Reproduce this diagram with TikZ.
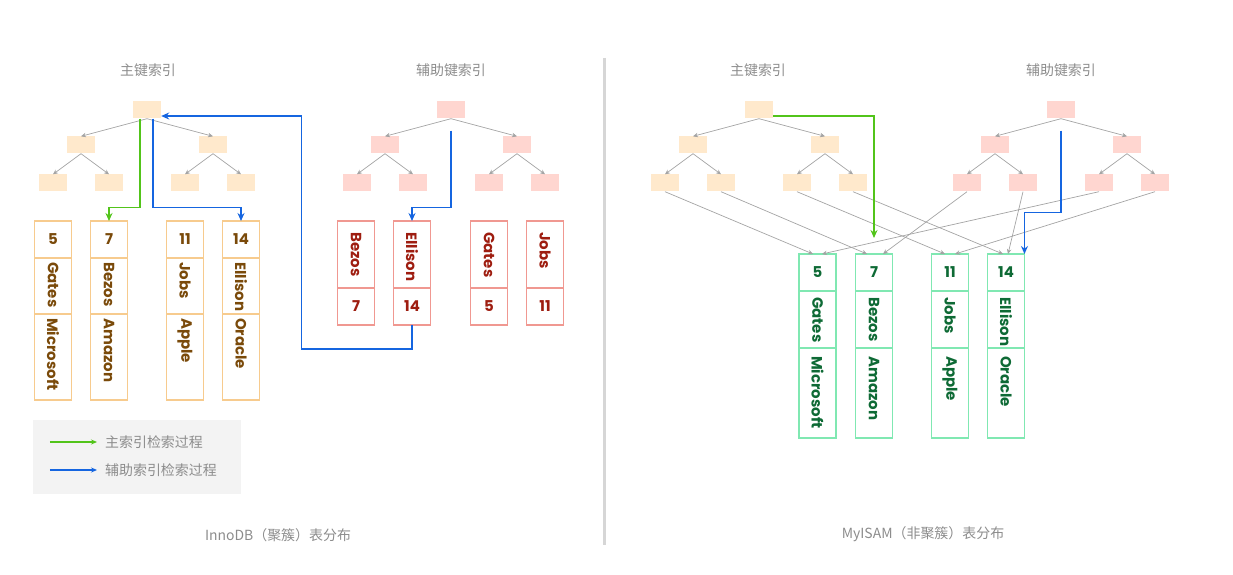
\documentclass[tikz,border=0pt]{standalone}
\usepackage{fontspec}
\setmainfont{Liberation Sans}
\newfontfamily\cjk{Noto Sans CJK SC}
\newfontfamily\recfont{Poppins}
\usetikzlibrary{arrows.meta,positioning}
\definecolor{pkfill}{HTML}{FFE9CC}
\definecolor{skfill}{HTML}{FFD6D0}
\definecolor{pkline}{HTML}{F7CB8E}
\definecolor{pktext}{HTML}{7A4A0A}
\definecolor{skline}{HTML}{F09891}
\definecolor{sktext}{HTML}{9E1D10}
\definecolor{myline}{HTML}{80E8B2}
\definecolor{mytext}{HTML}{0E6A35}
\definecolor{ptrgray}{HTML}{A3A3A3}
\definecolor{lblgray}{HTML}{8C8C8C}
\definecolor{hitgreen}{HTML}{52C41A}
\definecolor{hitblue}{HTML}{1565E0}
\definecolor{legendbg}{HTML}{F3F3F3}
\definecolor{divgray}{HTML}{D6D6D6}
\tikzset{
  lbl/.style={font=\cjk\fontsize{14}{16}\selectfont, text=lblgray},
  pknode/.style={fill=pkfill, minimum width=28bp, minimum height=17bp, inner sep=0pt},
  sknode/.style={pknode, fill=skfill},
  ptr/.style={-{Stealth[length=5bp,width=4.5bp]}, draw=ptrgray, line width=0.7bp},
  hit/.style={-{Stealth[length=8bp,width=7bp]}, line width=1.4bp},
  cell/.style={draw, line width=1.3bp, minimum width=37bp, inner sep=0pt, outer sep=0pt,
    font=\recfont\bfseries\fontsize{15}{17}\selectfont},
  vtxt/.style={rotate=-90, anchor=west, inner sep=0pt, font=\recfont\bfseries\fontsize{15}{17}\selectfont},
}

\begin{document}
\begin{tikzpicture}[x=1bp, y=-1bp]
  \useasboundingbox (0,0) rectangle (1233,575);
  % titles
  \node[lbl] (tlp) at (148,70) {主键索引};
  \node[lbl] (tls) at (451,70) {辅助键索引};
  \node[lbl] (trp) at (758,70) {主键索引};
  \node[lbl] (trs) at (1061,70) {辅助键索引};
  % four b+ trees
  \foreach \tr/\cx/\sty in {lp/147/pknode, ls/451/sknode, rp/759/pknode, rs/1061/sknode} {
    \node[\sty] (\tr0) at (\cx,110) {};
    \node[\sty] (\tr1) at (\cx-66,145) {};
    \node[\sty] (\tr2) at (\cx+66,145) {};
    \node[\sty] (\tr11) at (\cx-94,183) {};
    \node[\sty] (\tr12) at (\cx-38,183) {};
    \node[\sty] (\tr21) at (\cx+38,183) {};
    \node[\sty] (\tr22) at (\cx+94,183) {};
    \draw[ptr] (\tr0.south) -- (\tr1.north);
    \draw[ptr] (\tr0.south) -- (\tr2.north);
    \draw[ptr] (\tr1.south) -- (\tr11.north);
    \draw[ptr] (\tr1.south) -- (\tr12.north);
    \draw[ptr] (\tr2.south) -- (\tr21.north);
    \draw[ptr] (\tr2.south) -- (\tr22.north);
  }
  % InnoDB rows in the primary index
  \foreach \id/\cx/\num/\who/\firm in {a/53/5/Gates/Microsoft, b/109/7/Bezos/Amazon,
      c/185/11/Jobs/Apple, d/241/14/Ellison/Oracle} {
    \node[cell, draw=pkline, text=pktext, minimum height=37bp] (lk\id) at (\cx,239.5) {\num};
    \node[cell, draw=pkline, minimum height=56bp, below=0pt of lk\id] (ln\id) {};
    \node[cell, draw=pkline, minimum height=86bp, below=0pt of ln\id] (lc\id) {};
    \node[vtxt, text=pktext] at ([yshift=-4bp]ln\id.north) {\who};
    \node[vtxt, text=pktext] at ([yshift=-4bp]lc\id.north) {\firm};
  }
  % InnoDB secondary leaves
  \foreach \id/\cx/\who/\num in {a/356/Bezos/7, b/412/Ellison/14, c/489/Gates/5, d/545/Jobs/11} {
    \node[cell, draw=skline, minimum height=67bp] (sn\id) at (\cx,254.5) {};
    \node[cell, draw=skline, text=sktext, minimum height=37bp, below=0pt of sn\id] (sk\id) {\num};
    \node[vtxt, text=sktext] at ([yshift=-11bp]sn\id.north) {\who};
  }
  % MyISAM data file
  \foreach \id/\cx/\num/\who/\firm in {a/817.5/5/Gates/Microsoft, b/874/7/Bezos/Amazon,
      c/950/11/Jobs/Apple, d/1006/14/Ellison/Oracle} {
    \node[cell, draw=myline, text=mytext, minimum height=37bp] (rk\id) at (\cx,272.5) {\num};
    \node[cell, draw=myline, minimum height=57bp, below=0pt of rk\id] (rn\id) {};
    \node[cell, draw=myline, minimum height=90bp, below=0pt of rn\id] (rc\id) {};
    \node[vtxt, text=mytext] at ([yshift=-6bp]rn\id.north) {\who};
    \node[vtxt, text=mytext] at ([yshift=-8bp]rc\id.north) {\firm};
  }
  % leaf pointers into the data file
  \draw[ptr] (rp11.south) -- ([xshift=-4.5bp]rka.north);
  \draw[ptr] (rp12.south) -- ([xshift=-7bp]rkb.north);
  \draw[ptr] (rp21.south) -- ([xshift=-5bp]rkc.north);
  \draw[ptr] (rp22.south) -- ([xshift=-3bp]rkd.north);
  \draw[ptr] (rs11.south) -- ([xshift=9bp]rkb.north);
  \draw[ptr] (rs12.south) -- ([xshift=2bp]rkd.north);
  \draw[ptr] (rs21.south) -- ([xshift=4.5bp]rka.north);
  \draw[ptr] (rs22.south) -- ([xshift=5bp]rkc.north);
  % lookups
  \draw[hit, hitgreen] ([xshift=-7bp]lp0.south) -- ++(0,89) -| (lkb.north);
  \draw[hit, hitblue] ([xshift=6bp]lp0.south) -- ++(0,89) -| (lkd.north);
  \draw[hit, hitblue] ([yshift=-12bp]ls0.south) -- ++(0,77) -| (snb.north);
  \draw[hit, hitblue] (skb.south) -- ++(0,24) -| ([xshift=140bp,yshift=-6bp]lp0.east)
    -- ([yshift=-6bp]lp0.east);
  \draw[hit, hitgreen] ([yshift=-6bp]rp0.east) -| ([yshift=16bp]rkb.north);
  \draw[hit, hitblue] ([yshift=-12bp]rs0.south) -- ++(0,82) -| (rkd.north east);
  % legend
  \node[fill=legendbg, minimum width=208bp, minimum height=74bp, inner sep=0pt] (legend) at (137,457) {};
  \node[lbl, anchor=west, inner sep=0pt] (lga) at (105,442) {主索引检索过程};
  \node[lbl, anchor=west, inner sep=0pt] (lgb) at (105,470) {辅助索引检索过程};
  \draw[hitgreen, line width=1.2bp, -{Stealth[length=6bp,width=5bp]}] ([xshift=-55bp]lga.west) -- ([xshift=-8bp]lga.west);
  \draw[hitblue, line width=1.2bp, -{Stealth[length=6bp,width=5bp]}] ([xshift=-55bp]lgb.west) -- ([xshift=-8bp]lgb.west);
  % captions and divider
  \draw[divgray, line width=3bp] (604,58) -- (604,545);
  \node[lbl] (capl) at (278,535) {InnoDB（聚簇）表分布};
  \node[lbl] (capr) at (923,534) {MyISAM（非聚簇）表分布};
\end{tikzpicture}
\end{document}
